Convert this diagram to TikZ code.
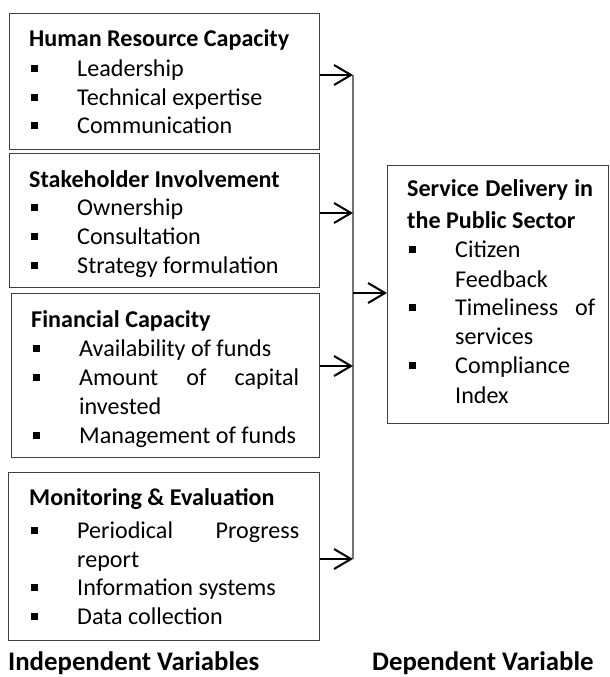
\documentclass[tikz,border=0pt]{standalone}
\usepackage{fontspec}
\setmainfont{Carlito}
\usetikzlibrary{arrows.meta}
\tikzset{
  box/.style={draw=black!75, line width=1.3pt, anchor=north west, inner sep=0pt},
  txt/.style={anchor=base west, inner sep=0pt, font=\fontsize{24.1}{29}\selectfont},
  ttl/.style={anchor=base west, inner sep=0pt, font=\fontsize{24.1}{29}\selectfont\bfseries},
  lbl/.style={anchor=base west, inner sep=0pt, font=\fontsize{26.8}{32}\selectfont\bfseries},
  arr/.style={line width=2pt, -{Straight Barb[length=17pt,width=20pt,line width=2pt]}},
  bus/.style={draw=black!55, line width=1.5pt}
}
\newcommand{\bsq}[2]{\fill[black] (#1,#2-11) rectangle ++(6.5,7);}
\begin{document}
\begin{tikzpicture}[x=1pt,y=-1pt]
\useasboundingbox (0,0) rectangle (610,677);
% boxes
\node[box, minimum width=310pt, minimum height=136pt] (hr) at (9,13) {};
\node[box, minimum width=310pt, minimum height=134pt] (sh) at (9,153) {};
\node[box, minimum width=308pt, minimum height=164pt] (fc) at (11,293) {};
\node[box, minimum width=311pt, minimum height=168pt] (me) at (8,472) {};
\node[box, minimum width=221pt, minimum height=258pt] (sd) at (387,165) {};
% Human resource
\node[ttl] (hrt) at (29,47) {Human Resource Capacity};
\bsq{31}{76}\node[txt] (hr1) at (77,76) {Leadership};
\bsq{31}{105}\node[txt] (hr2) at (77,105) {Technical expertise};
\bsq{31}{133}\node[txt] (hr3) at (77,133) {Communication};
% Stakeholder
\node[ttl] (sht) at (29,187) {Stakeholder Involvement};
\bsq{31}{215}\node[txt] (sh1) at (77,215) {Ownership};
\bsq{31}{244}\node[txt] (sh2) at (77,244) {Consultation};
\bsq{31}{273}\node[txt] (sh3) at (77,273) {Strategy formulation};
% Financial
\node[ttl] (fct) at (31,327) {Financial Capacity};
\bsq{33}{356}\node[txt] (fc1) at (79,356) {Availability of funds};
\bsq{33}{385}\node[txt] (fc2) at (79,385) {\makebox[220pt][s]{Amount of capital}};
\node[txt] (fc2b) at (79,414) {invested};
\bsq{33}{443}\node[txt] (fc3) at (79,443) {Management of funds};
% Monitoring
\node[ttl] (met) at (29,505) {Monitoring \& Evaluation};
\bsq{31}{538}\node[txt] (me1) at (77,538) {\makebox[222pt][s]{Periodical Progress}};
\node[txt] (me1b) at (77,567) {report};
\bsq{31}{595}\node[txt] (me2) at (77,595) {Information systems};
\bsq{31}{624}\node[txt] (me3) at (77,624) {Data collection};
% Service delivery
\node[ttl] (sdt) at (407,196) {\makebox[186pt][s]{Service Delivery in}};
\node[ttl] (sdt2) at (407,228) {the Public Sector};
\bsq{409}{257}\node[txt] (sd1) at (455,257) {Citizen};
\node[txt] (sd1b) at (455,287) {Feedback};
\bsq{409}{315}\node[txt] (sd2) at (455,315) {\makebox[140pt][s]{Timeliness of}};
\node[txt] (sd2b) at (455,344) {services};
\bsq{409}{373}\node[txt] (sd3) at (455,373) {Compliance};
\node[txt] (sd3b) at (455,403) {Index};
% labels
\node[lbl] (iv) at (8,670) {Independent Variables};
\node[lbl] (dv) at (372,670) {Dependent Variable};
% connectors
\coordinate (j1) at (353,75);
\coordinate (j2) at (353,213);
\coordinate (j3) at (353,366);
\coordinate (j4) at (353,559);
\coordinate (jc) at (353,293);
\draw[bus] (j1) -- (j4);
\draw[arr] (hr.east |- j1) -- (j1);
\draw[arr] (sh.east |- j2) -- (j2);
\draw[arr] (fc.east |- j3) -- (j3);
\draw[arr] (me.east |- j4) -- (j4);
\draw[arr] (jc) -- (sd.west |- jc);
\end{tikzpicture}
\end{document}
